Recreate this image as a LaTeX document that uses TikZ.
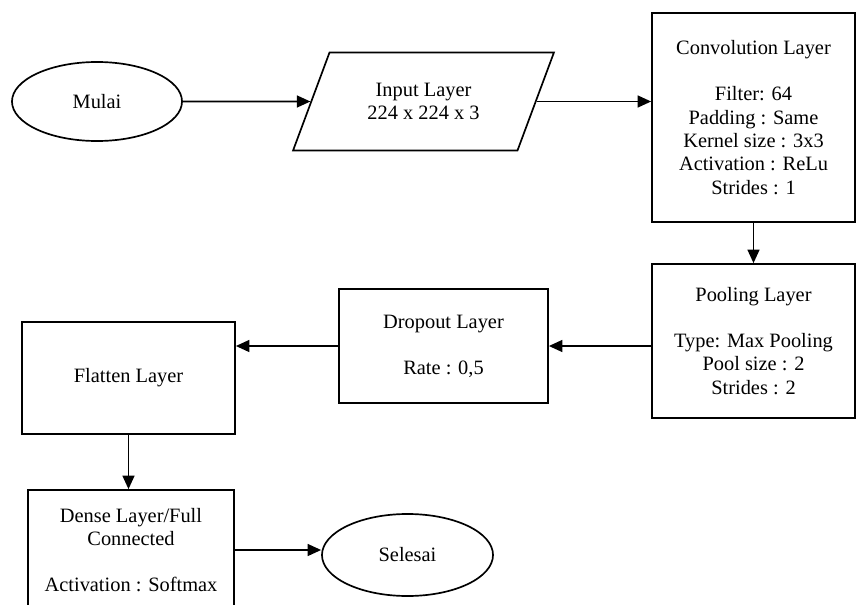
\documentclass[tikz,border=0pt]{standalone}
\usepackage{fontspec}
\setmainfont{Liberation Serif}
\usetikzlibrary{shapes.geometric, arrows.meta, positioning, calc}
\definecolor{tinta}{HTML}{000000}
\tikzset{
  kotak/.style={rectangle, draw=tinta, line width=1.2pt, text centered, align=center,
                font=\fontsize{14.5}{16.6}\selectfont, fill=white},
  elips/.style={ellipse, draw=tinta, line width=1.2pt, text centered,
                font=\fontsize{14.5}{16.6}\selectfont},
  jajar/.style={trapezium, trapezium left angle=63, trapezium right angle=117,
                trapezium stretches=true, draw=tinta, line width=1.2pt, align=center,
                font=\fontsize{14.5}{16.6}\selectfont},
  panah/.style={line width=1.2pt, -{Triangle[length=3.4mm, width=3mm]}, color=tinta}
}
\begin{document}
\begin{tikzpicture}[x=0.025cm, y=-0.025cm]
  \useasboundingbox (0,0) rectangle (856,605);
  \clip (0,0) rectangle (856,605);
  \node (mulai) [elips, minimum width=4.25cm, minimum height=1.975cm] at (97,101.5) {Mulai};
  \node (input) [jajar, minimum width=6.525cm, minimum height=2.45cm] at (423.5,101.5) {Input Layer\\224 x 224 x 3};
  \node (konv) [kotak, minimum width=5.075cm, minimum height=5.225cm] at (753.5,117.5)
    {Convolution Layer\\[16pt] Filter: 64\\Padding : Same\\Kernel size : 3x3\\Activation : ReLu\\Strides : 1};
  \node (pool) [kotak, minimum width=5.075cm, minimum height=3.85cm] at (753.5,341)
    {Pooling Layer\\[16pt] Type: Max Pooling\\Pool size : 2\\Strides : 2};
  \node (dropout) [kotak, minimum width=5.225cm, minimum height=2.85cm] at (443.5,346)
    {Dropout Layer\\[16pt] Rate : 0,5};
  \node (flatten) [kotak, minimum width=5.325cm, minimum height=2.8cm] at (128.5,378) {Flatten Layer};
  \node (dense) [kotak, minimum width=5.15cm, minimum height=3.0cm] at (131,550)
    {Dense Layer/Full\\Connected\\[16pt] Activation : Softmax};
  \node (selesai) [elips, minimum width=4.275cm, minimum height=2.05cm] at (407.5,555) {Selesai};
  \draw [panah] (mulai.east) -- (input.west);
  \draw [panah] (input.east) -- (input.east -| konv.west);
  \draw [panah] (konv.south) -- (pool.north);
  \draw [panah] (pool.west |- dropout.east) -- (dropout.east);
  \draw [panah] (dropout.west) -- (dropout.west -| flatten.east);
  \draw [panah] (flatten.south) -- (flatten.south |- dense.north);
  \draw [panah] (dense.east) -- (dense.east -| selesai.west);
\end{tikzpicture}
\end{document}
